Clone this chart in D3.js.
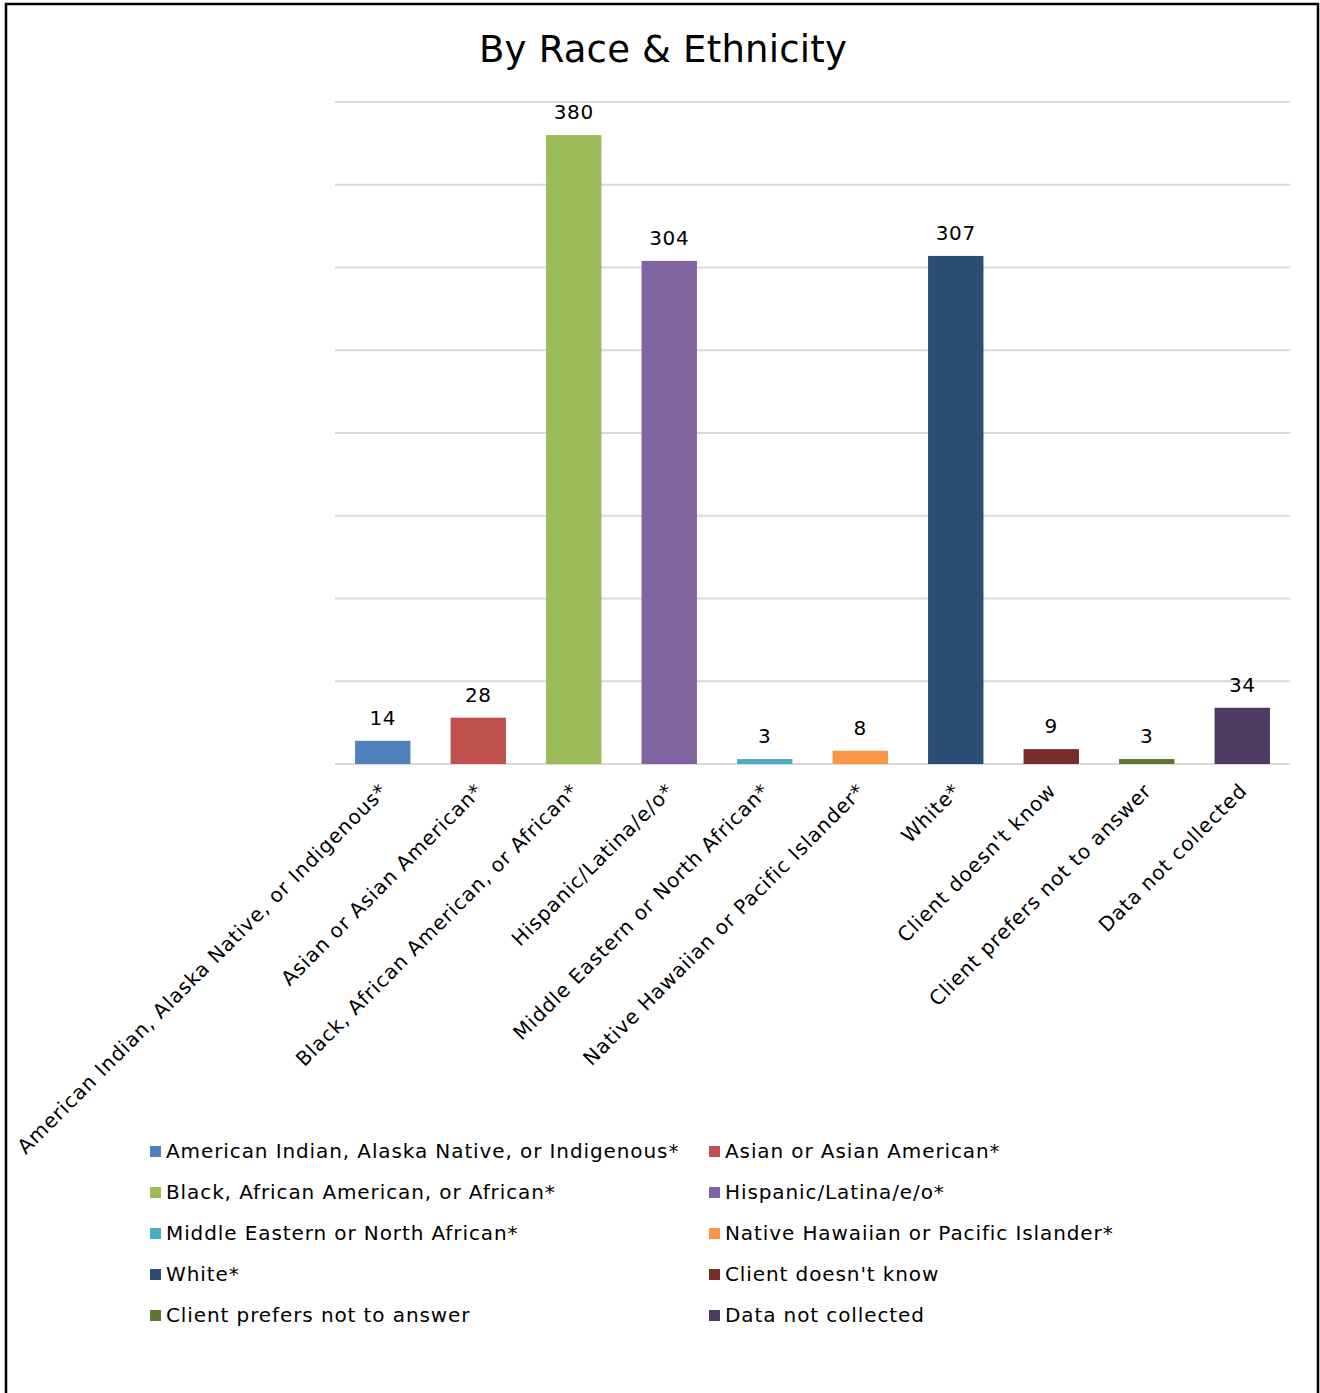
<!DOCTYPE html>
<html>
<head>
<meta charset="utf-8">
<script src="https://cdn.jsdelivr.net/npm/d3@7"></script>
<style>
  html, body { margin: 0; padding: 0; background: #fff; }
  svg { display: block; font-family: "DejaVu Sans", Verdana, sans-serif; }
</style>
</head>
<body>
<svg id="chart" width="1320" height="1393"></svg>
<script>
// Counts by race & ethnicity
const categories = [
  "American Indian, Alaska Native, or Indigenous*",
  "Asian or Asian American*",
  "Black, African American, or African*",
  "Hispanic/Latina/e/o*",
  "Middle Eastern or North African*",
  "Native Hawaiian or Pacific Islander*",
  "White*",
  "Client doesn't know",
  "Client prefers not to answer",
  "Data not collected"
];
const values = [14, 28, 380, 304, 3, 8, 307, 9, 3, 34];
const colors = ["#4F81BD", "#C0504D", "#9BBB59", "#8064A2", "#4BACC6",
                "#F79646", "#2C4D75", "#772C2A", "#5F7530", "#4D3B62"];
const yTicks = [0, 50, 100, 150, 200, 250, 300, 350, 400];
const title = "By Race & Ethnicity";

const svg = d3.select("#chart");

// outer frame
svg.append("path")
  .attr("d", "M6,1393 V4 H1318 V1393")
  .attr("fill", "none").attr("stroke", "#000").attr("stroke-width", 2.5);

const plot = { left: 335, right: 1290, top: 102, bottom: 764 };

const x = d3.scaleBand().domain(categories)
  .range([plot.left, plot.right]).paddingInner(0.42).paddingOuter(0.21);
const y = d3.scaleLinear().domain([0, 400]).range([plot.bottom, plot.top]);

// title
svg.append("text")
  .attr("x", 663).attr("y", 62)
  .attr("text-anchor", "middle")
  .attr("font-size", 37).attr("fill", "#000")
  .attr("letter-spacing", 0.2)
  .text(title);

// gridlines
svg.append("g").selectAll("line").data(yTicks).join("line")
  .attr("x1", plot.left).attr("x2", plot.right)
  .attr("y1", d => y(d)).attr("y2", d => y(d))
  .attr("stroke", "#d9d9d9").attr("stroke-width", 2);

// bars
svg.append("g").selectAll("rect").data(values).join("rect")
  .attr("x", (d, i) => x(categories[i]))
  .attr("y", d => y(d))
  .attr("width", x.bandwidth())
  .attr("height", d => y(0) - y(d))
  .attr("fill", (d, i) => colors[i]);

// value labels
svg.append("g").selectAll("text").data(values).join("text")
  .attr("x", (d, i) => x(categories[i]) + x.bandwidth() / 2)
  .attr("y", d => y(d) - 16)
  .attr("text-anchor", "middle")
  .attr("font-size", 20).attr("fill", "#000")
  .attr("letter-spacing", 0.6)
  .text(d => d);

// rotated category labels
svg.append("g").selectAll("text").data(categories).join("text")
  .attr("transform", d => `translate(${x(d) + x.bandwidth() / 2 + 6},${plot.bottom + 28}) rotate(-45)`)
  .attr("text-anchor", "end")
  .attr("font-size", 20).attr("fill", "#000")
  .attr("letter-spacing", 0.9)
  .text(d => d);

// legend: two columns, five rows
const legend = svg.append("g");
const colX = [150, 709];
const rowY0 = 1151, rowGap = 41;
const items = legend.selectAll("g").data(categories).join("g")
  .attr("transform", (d, i) => `translate(${colX[i % 2]},${rowY0 + Math.floor(i / 2) * rowGap})`);
items.append("rect")
  .attr("x", 0).attr("y", -5).attr("width", 11).attr("height", 11)
  .attr("fill", (d, i) => colors[i]);
items.append("text")
  .attr("x", 16).attr("y", 7)
  .attr("font-size", 20).attr("fill", "#000")
  .attr("letter-spacing", 0.9)
  .text(d => d);
</script>
</body>
</html>
